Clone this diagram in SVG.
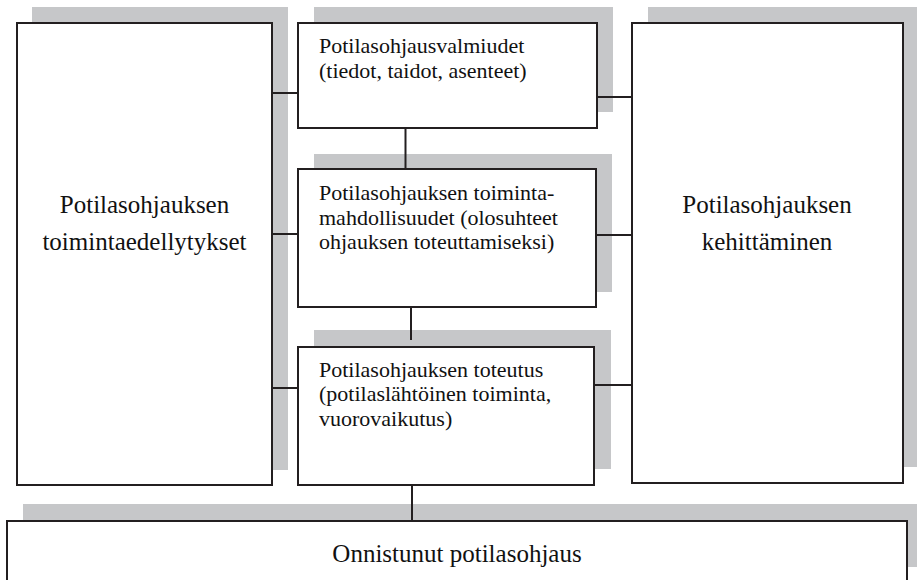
<svg xmlns="http://www.w3.org/2000/svg" width="917" height="580" viewBox="0 0 917 580">
<style>
.sh{fill:#c6c7c9;stroke:none}
.bx{fill:#ffffff;stroke:#231f20;stroke-width:2}
.cn{stroke:#231f20;stroke-width:2;fill:none}
text{font-family:'Liberation Serif','Times New Roman',Tinos,'DejaVu Serif',serif;fill:#111}
.t{font-size:22px}
.tb{font-size:25px;text-anchor:middle}
</style>
<rect width="917" height="580" fill="#ffffff"/>
<g id="n-edellytykset">
<rect class="sh" x="32" y="7" width="256" height="463"/>
<rect class="bx" x="17" y="23" width="255" height="462"/>
<text class="tb" x="144.5" y="213" font-family="Liberation Serif, serif">Potilasohjauksen</text>
<text class="tb" x="144.5" y="250" font-family="Liberation Serif, serif">toimintaedellytykset</text>
</g>
<g id="n-valmiudet">
<rect class="sh" x="314" y="7" width="299" height="105"/>
<rect class="bx" x="298" y="23" width="299" height="105"/>
<text class="t" x="319" y="53" font-family="Liberation Serif, serif">Potilasohjausvalmiudet</text>
<text class="t" x="319" y="78" font-family="Liberation Serif, serif">(tiedot, taidot, asenteet)</text>
</g>
<g id="n-mahdollisuudet">
<rect class="sh" x="314" y="154" width="298" height="138"/>
<rect class="bx" x="298" y="169" width="298" height="138"/>
<text class="t" x="319" y="200" font-family="Liberation Serif, serif">Potilasohjauksen toiminta-</text>
<text class="t" x="319" y="224.5" font-family="Liberation Serif, serif">mahdollisuudet (olosuhteet</text>
<text class="t" x="319" y="249" font-family="Liberation Serif, serif">ohjauksen toteuttamiseksi)</text>
</g>
<g id="n-toteutus">
<rect class="sh" x="314" y="330" width="297" height="139"/>
<rect class="bx" x="298" y="347" width="296" height="138"/>
<text class="t" x="319" y="377" font-family="Liberation Serif, serif">Potilasohjauksen toteutus</text>
<text class="t" x="319" y="401" font-family="Liberation Serif, serif">(potilaslähtöinen toiminta,</text>
<text class="t" x="319" y="425.5" font-family="Liberation Serif, serif">vuorovaikutus)</text>
</g>
<g id="n-kehittaminen">
<rect class="sh" x="648" y="7" width="269" height="460"/>
<rect class="bx" x="632" y="23" width="271" height="460"/>
<text class="tb" x="767" y="213" font-family="Liberation Serif, serif">Potilasohjauksen</text>
<text class="tb" x="767" y="250" font-family="Liberation Serif, serif">kehittäminen</text>
</g>
<g id="n-onnistunut">
<rect class="sh" x="23" y="504" width="894" height="63"/>
<rect class="bx" x="7" y="521" width="900" height="70"/>
<text class="tb" x="457" y="562" font-family="Liberation Serif, serif">Onnistunut potilasohjaus</text>
</g>
<g id="connectors">
<line class="cn" x1="272" y1="93" x2="298" y2="93"/>
<line class="cn" x1="272" y1="234" x2="298" y2="234"/>
<line class="cn" x1="272" y1="388" x2="298" y2="388"/>
<line class="cn" x1="597" y1="97" x2="632" y2="97"/>
<line class="cn" x1="596" y1="235" x2="632" y2="235"/>
<line class="cn" x1="594" y1="385" x2="632" y2="385"/>
<line class="cn" x1="405.5" y1="128" x2="405.5" y2="169"/>
<line class="cn" x1="411" y1="307" x2="411" y2="340"/>
<line class="cn" x1="412" y1="485" x2="412" y2="521"/>
</g>
</svg>
